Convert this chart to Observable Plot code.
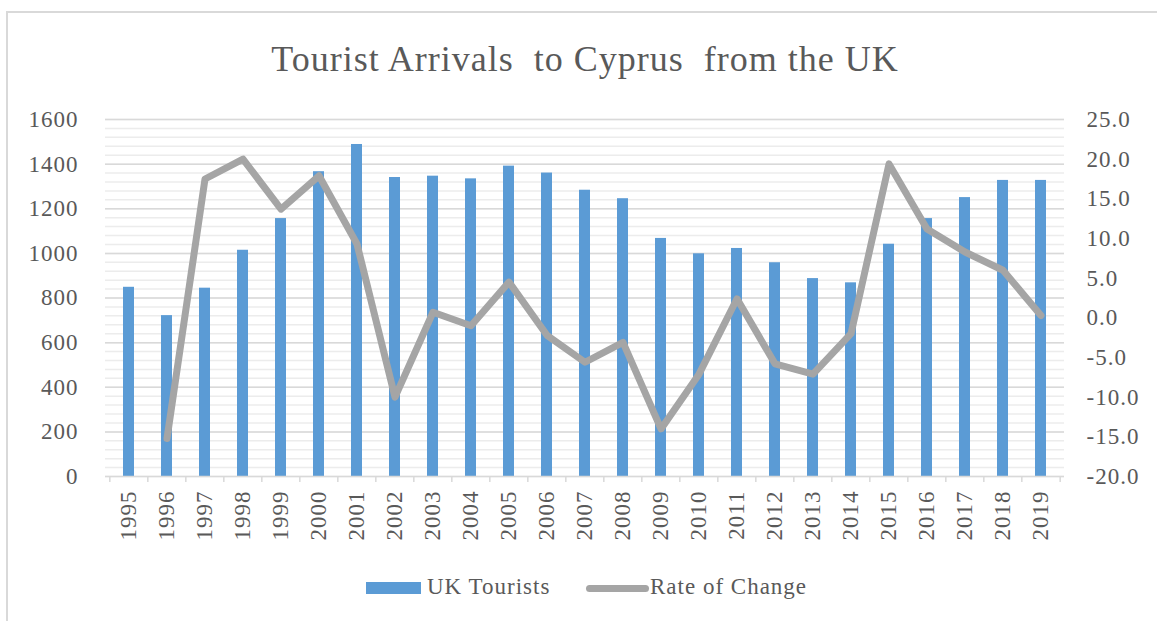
<!DOCTYPE html>
<html>
<head>
<meta charset="utf-8">
<script src="https://cdn.jsdelivr.net/npm/d3@7"></script>
<script src="https://cdn.jsdelivr.net/npm/@observablehq/plot@0.6"></script>
<style>
  html, body { margin: 0; padding: 0; background: #fff; }
  #wrap { position: relative; width: 1157px; height: 621px; overflow: hidden; font-family: "Liberation Serif", "Times New Roman", serif; color: #595959; }
  #frame { position: absolute; left: 6px; top: 11px; width: 1300px; height: 800px; border-top: 2px solid #d9d9d9; border-left: 2px solid #d9d9d9; }
  #title { position: absolute; left: 0; width: 1170px; top: 41px; text-align: center; font-size: 36px; line-height: 36px; white-space: pre; letter-spacing: 1px; }
  #chart { position: absolute; left: 0; top: 0; }
  #chart text { letter-spacing: 1px; }
  .leg { position: absolute; font-size: 23px; line-height: 23px; white-space: nowrap; letter-spacing: 1px; }
</style>
</head>
<body>
<div id="wrap">
  <div id="frame"></div>
  <div id="title">Tourist Arrivals  to Cyprus  from the UK</div>
  <div id="chart"></div>
  <div style="position:absolute;left:366px;top:582px;width:55px;height:12px;background:#5b9bd5"></div>
  <div class="leg" style="left:427px;top:575px">UK Tourists</div>
  <div style="position:absolute;left:586px;top:585px;width:63px;height:7px;border-radius:3.5px;background:#a5a5a5"></div>
  <div class="leg" style="left:650px;top:575px">Rate of Change</div>
</div>
<script>
const years = [1995,1996,1997,1998,1999,2000,2001,2002,2003,2004,2005,2006,2007,2008,2009,2010,2011,2012,2013,2014,2015,2016,2017,2018,2019];
const ukTourists = [848,721,844,1014,1156,1366,1488,1340,1346,1334,1391,1360,1283,1245,1067,998,1022,958,887,868,1041,1156,1250,1327,1327];
const rateOfChange = [null,-15.2,17.5,20.0,13.7,17.9,9.3,-10.0,0.7,-1.0,4.5,-2.2,-5.6,-3.1,-14.0,-7.1,2.4,-5.8,-7.1,-2.0,19.4,11.2,8.3,6.0,0.3];
const leftTicks = [0,200,400,600,800,1000,1200,1400,1600];
const rightTicks = [-20,-15,-10,-5,0,5,10,15,20,25];

// map the right axis (-20..25) onto the left axis (0..1600)
const toLeft = r => (r + 20) * 1600 / 45;
const fromLeft = v => v * 45 / 1600 - 20;

const data = years.map((y, i) => ({year: String(y), tourists: ukTourists[i], rate: rateOfChange[i]}));
const lineData = data.filter(d => d.rate != null);
const minorTicks = d3.range(0, 1601, 40);

const font = "Liberation Serif, Times New Roman, serif";
const chart = Plot.plot({
  width: 1157,
  height: 560,
  marginTop: 119,
  marginBottom: 84,
  marginLeft: 105,
  marginRight: 93,
  style: {fontFamily: font, fontSize: "23px", color: "#595959", background: "transparent", overflow: "visible"},
  x: {type: "band", domain: years.map(String), paddingInner: 0.71, paddingOuter: 0.355},
  y: {domain: [0, 1600]},
  marks: [
    Plot.ruleY(minorTicks, {stroke: "#ececec", strokeWidth: 1.5}),
    Plot.ruleY(leftTicks.slice(1), {stroke: "#d9d9d9", strokeWidth: 1.5}),
    Plot.barY(data, {x: "year", y: "tourists", fill: "#5b9bd5"}),
    Plot.ruleY([0], {stroke: "#d9d9d9", strokeWidth: 1.5}),
    Plot.ruleX(data, {x: "year", y1: 0, y2: -27, stroke: "#d9d9d9", strokeWidth: 1.5, dx: -19.18}),
    Plot.ruleX(data.slice(-1), {x: "year", y1: 0, y2: -27, stroke: "#d9d9d9", strokeWidth: 1.5, dx: 19.18}),
    Plot.line(lineData, {x: "year", y: d => toLeft(d.rate), stroke: "#a5a5a5", strokeWidth: 7, strokeLinejoin: "round", strokeLinecap: "round"}),
    Plot.axisY(leftTicks, {anchor: "left", tickSize: 0, tickPadding: 27, tickFormat: d3.format("d"), fontSize: 23, label: null}),
    Plot.axisY(rightTicks.map(toLeft), {anchor: "right", tickSize: 0, tickPadding: 22, tickFormat: d => fromLeft(d).toFixed(1), fontSize: 23, label: null}),
    Plot.axisX({tickSize: 0, tickRotate: -90, tickPadding: 14, fontSize: 23, label: null})
  ]
});
document.getElementById("chart").appendChild(chart);
</script>
</body>
</html>
